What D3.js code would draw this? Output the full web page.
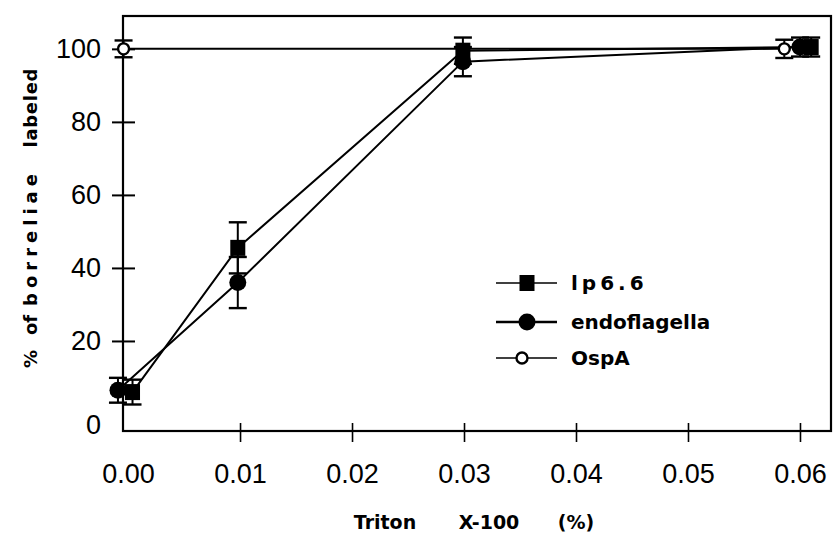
<!DOCTYPE html>
<html>
<head>
<meta charset="utf-8">
<script src="https://cdn.jsdelivr.net/npm/d3@7"></script>
<style>
  html, body { margin: 0; padding: 0; background: #fff; }
  svg { display: block; }
</style>
</head>
<body>
<svg id="chart" width="839" height="533"></svg>
<script>
// ---- data ----
const xTicks = [0.00, 0.01, 0.02, 0.03, 0.04, 0.05, 0.06];
const xTickLabels = ["0.00", "0.01", "0.02", "0.03", "0.04", "0.05", "0.06"];
const yTicks = [0, 20, 40, 60, 80, 100];
const yTickLabels = ["0", "20", "40", "60", "80", "100"];

const seriesNames = ["lp6.6", "endoflagella", "OspA"];

const lp66X   = [0.0004, 0.0098, 0.0299, 0.0610];
const lp66Y   = [6.0, 45.5, 99.5, 100.5];
const lp66Err = [3.4, 7.0, 3.6, 2.6];

const endoX   = [-0.0009, 0.0098, 0.0299, 0.0600];
const endoY   = [6.5, 36.0, 96.5, 100.5];
const endoErr = [3.4, 7.0, 4.0, 2.6];

const ospX    = [-0.0004, 0.0586];
const ospY    = [100.0, 100.0];
const ospErr  = [2.3, 2.5];

// ---- layout ----
const svg = d3.select("#chart");
const pL = 123, pR = 831, pT = 16, pB = 431;

const x = d3.scaleLinear().domain([-0.00045, 0.06277]).range([pL, pR]);
const y = d3.scaleLinear().domain([-4.66, 109.0]).range([pB, pT]);

const tickFont = "'Liberation Sans', Arial, sans-serif";
const boldFont = "'DejaVu Sans', sans-serif";

// frame
svg.append("rect")
  .attr("x", pL).attr("y", pT)
  .attr("width", pR - pL).attr("height", pB - pT)
  .attr("fill", "none").attr("stroke", "#000").attr("stroke-width", 2.2);

// y axis (ticks crossing the axis line)
const yAxis = d3.axisLeft(y)
  .tickValues(yTicks)
  .tickFormat((d, i) => yTickLabels[i])
  .tickSize(0).tickPadding(22);
const gy = svg.append("g").attr("transform", `translate(${pL},0)`).call(yAxis);
gy.select(".domain").remove();
gy.selectAll(".tick line")
  .attr("x1", -11).attr("x2", 12)
  .attr("stroke", "#000").attr("stroke-width", 2)
  .attr("display", d => d === 0 ? "none" : null);
gy.selectAll(".tick text")
  .attr("font-family", tickFont).attr("font-size", 27).attr("fill", "#000")
  .attr("y", d => d === 0 ? 11 : 0);

// x axis
const xAxis = d3.axisBottom(x)
  .tickValues(xTicks)
  .tickFormat((d, i) => xTickLabels[i])
  .tickSize(0).tickPadding(33);
const gx = svg.append("g").attr("transform", `translate(0,${pB})`).call(xAxis);
gx.select(".domain").remove();
gx.selectAll(".tick line")
  .attr("y1", -8).attr("y2", 11)
  .attr("stroke", "#000").attr("stroke-width", 1.6)
  .attr("display", d => d === 0 ? "none" : null);
gx.selectAll(".tick text")
  .attr("font-family", tickFont).attr("font-size", 27).attr("fill", "#000");

// axis titles (words spaced as in the original)
const xTitleWords = [["Triton", 385], ["X-100", 489], ["(%)", 576]];
svg.selectAll(".xtw").data(xTitleWords).join("text")
  .attr("class", "xtw")
  .attr("x", d => d[1]).attr("y", 529)
  .attr("text-anchor", "middle")
  .attr("font-family", boldFont).attr("font-weight", "bold").attr("font-size", 19)
  .text(d => d[0]);

const yTitleWords = [["%", 359, null], ["of", 325, null], ["borreliae", 240, 132], ["labeled", 108, 79]];
svg.selectAll(".ytw").data(yTitleWords).join("text")
  .attr("class", "ytw")
  .attr("transform", d => `translate(37,${d[1]}) rotate(-90)`)
  .attr("text-anchor", "middle")
  .attr("font-family", boldFont).attr("font-weight", "bold").attr("font-size", 18)
  .attr("textLength", d => d[2])
  .attr("lengthAdjust", "spacing")
  .text(d => d[0]);

// ---- series ----
const series = [
  { name: seriesNames[0], xs: lp66X, ys: lp66Y, es: lp66Err, shape: "square" },
  { name: seriesNames[1], xs: endoX, ys: endoY, es: endoErr, shape: "circle" },
  { name: seriesNames[2], xs: ospX,  ys: ospY,  es: ospErr,  shape: "open" }
];

const line = d3.line().x(d => x(d[0])).y(d => y(d[1]));

series.forEach(s => {
  const pts = s.xs.map((v, i) => [v, s.ys[i], s.es[i]]);
  svg.append("path").datum(pts)
    .attr("d", line).attr("fill", "none")
    .attr("stroke", "#000").attr("stroke-width", 2);
  const eb = svg.append("g");
  pts.forEach(p => {
    const cx = x(p[0]);
    eb.append("line").attr("x1", cx).attr("x2", cx)
      .attr("y1", y(p[1] - p[2])).attr("y2", y(p[1] + p[2]))
      .attr("stroke", "#000").attr("stroke-width", 2);
    [p[1] - p[2], p[1] + p[2]].forEach(v => {
      eb.append("line").attr("x1", cx - 9).attr("x2", cx + 9)
        .attr("y1", y(v)).attr("y2", y(v))
        .attr("stroke", "#000").attr("stroke-width", 2.4);
    });
  });
  s.pts = pts;
});

function drawMarker(g, shape, cx, cy) {
  if (shape === "square") {
    g.append("rect").attr("x", cx - 7.5).attr("y", cy - 8).attr("width", 15).attr("height", 16)
      .attr("fill", "#000");
  } else if (shape === "circle") {
    g.append("circle").attr("cx", cx).attr("cy", cy).attr("r", 8.5).attr("fill", "#000");
  } else {
    g.append("circle").attr("cx", cx).attr("cy", cy).attr("r", 5.5)
      .attr("fill", "#fff").attr("stroke", "#000").attr("stroke-width", 2.4);
  }
}

const mk = svg.append("g");
series.forEach(s => s.pts.forEach(p => drawMarker(mk, s.shape, x(p[0]), y(p[1]))));

// ---- legend ----
const legendRows = [
  { name: seriesNames[0], shape: "square", ly: 283, mx: 527, lw: 1.6, ls: 4 },
  { name: seriesNames[1], shape: "circle", ly: 322, mx: 527, lw: 2.6, ls: 0 },
  { name: seriesNames[2], shape: "open",   ly: 358, mx: 522, lw: 1.6, ls: 0 }
];
const lg = svg.append("g");
legendRows.forEach(r => {
  lg.append("line").attr("x1", 496).attr("x2", 557).attr("y1", r.ly).attr("y2", r.ly)
    .attr("stroke", "#000").attr("stroke-width", r.lw);
  drawMarker(lg, r.shape, r.mx, r.ly);
  lg.append("text").attr("x", 571).attr("y", r.ly + 7)
    .attr("font-family", boldFont).attr("font-weight", "bold").attr("font-size", 20)
    .attr("letter-spacing", r.ls)
    .text(r.name);
});
</script>
</body>
</html>
